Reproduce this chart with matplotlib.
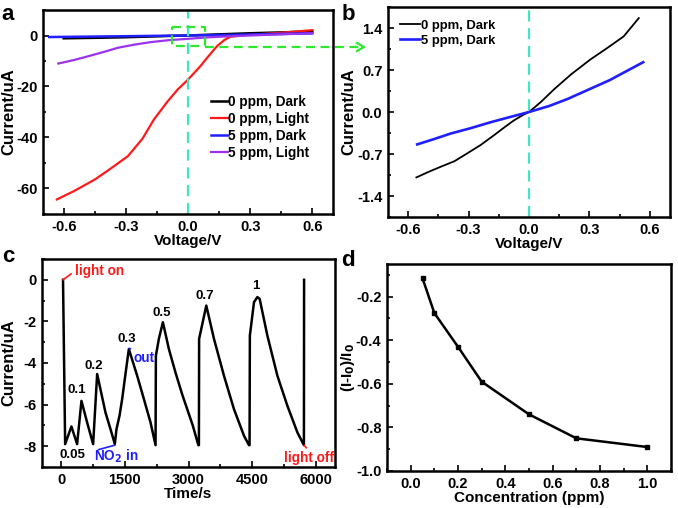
import numpy as np
import matplotlib
matplotlib.use("Agg")
import matplotlib.pyplot as plt
from matplotlib.ticker import MultipleLocator, FormatStrFormatter
from matplotlib.lines import Line2D

plt.rcParams["font.family"] = ["Liberation Sans", "DejaVu Sans"]
plt.rcParams["font.weight"] = "bold"
plt.rcParams["axes.unicode_minus"] = False

# ---------------- data ----------------
# panel a: I-V curves
a_dark0_v = [-0.60, -0.44, -0.31, -0.18, -0.08, 0.00, 0.13, 0.30, 0.47, 0.60]
a_dark0_i = [-1.1, -0.9, -0.7, -0.4, -0.15, 0.0, 0.4, 0.88, 1.26, 1.6]
a_light0_v = [-0.633, -0.55, -0.45, -0.37, -0.29, -0.22, -0.165, -0.10, -0.05, 0.0,
              0.06, 0.10, 0.14, 0.175, 0.204, 0.30, 0.45, 0.60]
a_light0_i = [-64.3, -61.0, -56.5, -52.0, -47.3, -40.5, -33.0, -26.0, -21.2, -17.3,
              -12.0, -8.0, -4.2, -1.8, -0.5, 0.3, 1.1, 2.1]
a_dark5_v = [-0.67, -0.39, -0.19, 0.0, 0.19, 0.32, 0.47, 0.60]
a_dark5_i = [-0.6, -0.36, -0.17, 0.0, 0.22, 0.41, 0.66, 0.85]
a_light5_v = [-0.626, -0.55, -0.48, -0.40, -0.338, -0.26, -0.18, -0.09, 0.0, 0.10, 0.20, 0.40, 0.60]
a_light5_i = [-11.0, -9.6, -8.1, -6.3, -4.8, -3.6, -2.6, -1.8, -1.3, -0.7, -0.3, 0.3, 0.9]

# panel b: dark I-V zoom
b_dark0_v = [-0.559, -0.50, -0.44, -0.37, -0.307, -0.24, -0.175, -0.12, -0.075, -0.03, 0.0,
             0.06, 0.125, 0.21, 0.305, 0.39, 0.47, 0.545]
b_dark0_i = [-1.09, -1.00, -0.915, -0.82, -0.69, -0.55, -0.39, -0.25, -0.14, -0.05, 0.0,
             0.17, 0.38, 0.63, 0.876, 1.07, 1.26, 1.565]
b_dark5_v = [-0.555, -0.47, -0.39, -0.29, -0.19, -0.09, 0.0, 0.10, 0.19, 0.32, 0.40, 0.47, 0.567]
b_dark5_i = [-0.54, -0.45, -0.36, -0.27, -0.17, -0.08, 0.0, 0.10, 0.215, 0.41, 0.53, 0.656, 0.83]

# panel c: response vs time
c_t = [45, 95, 243, 377, 479, 613, 754, 849, 1045, 1163, 1265,
       1304, 1375, 1438, 1500, 1595, 1791, 1949, 2106, 2224,
       2232, 2302, 2397, 2538, 2700, 2850, 3000, 3100, 3232,
       3245, 3250, 3419, 3600, 3835, 4071, 4307, 4425,
       4438, 4445, 4543, 4622, 4676, 4857, 5093, 5329, 5565, 5718,
       5722]
c_i = [0.0, -7.9, -7.05, -7.9, -5.82, -6.86, -7.9, -4.53, -6.38, -7.18, -7.9,
       -7.18, -6.54, -5.73, -4.77, -3.33, -4.61, -5.73, -6.86, -7.95,
       -3.65, -2.84, -2.04, -3.33, -4.5, -5.5, -6.4, -7.0, -7.95,
       -7.95, -2.84, -1.24, -2.84, -4.61, -6.22, -7.5, -7.95,
       -7.95, -2.68, -1.07, -0.83, -0.92, -2.68, -4.61, -6.06, -7.34, -7.95,
       0.0]
c_labels = ["0.05", "0.1", "0.2", "0.3", "0.5", "0.7", "1"]
c_label_t = [270, 375, 770, 1555, 2380, 3380, 4580]
c_label_i = [-8.4, -5.3, -4.14, -2.84, -1.6, -0.76, -0.3]

# panel d: response vs concentration
d_conc = [0.05, 0.1, 0.2, 0.3, 0.5, 0.7, 1.0]
d_resp = [-0.115, -0.275, -0.43, -0.59, -0.74, -0.85, -0.89]

# ---------------- figure ----------------
fig = plt.figure(figsize=(6.78, 5.08), dpi=100)
W, H = 678, 508


def box(l, t, r, b):
    return [l / W, 1 - b / H, (r - l) / W, (b - t) / H]


ax_a = fig.add_axes(box(43, 10, 333, 214))
ax_b = fig.add_axes(box(388, 7, 670, 217))
ax_c = fig.add_axes(box(42, 259, 335, 467))
ax_d = fig.add_axes(box(387, 264, 671, 471))

cyan = "#3ee6c4"
green = "#2ee82e"
red = "#ff1a1a"
blue = "#1f1fff"


def style(ax, xmaj, xmin, ymaj, ymin, xfmt, yfmt):
    ax.xaxis.set_major_locator(MultipleLocator(xmaj))
    ax.xaxis.set_minor_locator(MultipleLocator(xmin))
    ax.yaxis.set_major_locator(MultipleLocator(ymaj))
    ax.yaxis.set_minor_locator(MultipleLocator(ymin))
    ax.xaxis.set_major_formatter(FormatStrFormatter(xfmt))
    ax.yaxis.set_major_formatter(FormatStrFormatter(yfmt))
    ax.tick_params(which="both", direction="in", width=1.2, labelsize=10.5, pad=4)
    ax.tick_params(which="major", length=4)
    ax.tick_params(which="minor", length=2.5)
    for s in ax.spines.values():
        s.set_linewidth(1.8)
    for lab in ax.get_xticklabels() + ax.get_yticklabels():
        lab.set_fontweight("bold")


def labels(ax, xl, yl, label_right, ysize=12):
    # label_right: pixel x where the rotated y label ends
    ax.set_xlabel(xl, fontsize=11, fontweight="bold", labelpad=0)
    ax.set_ylabel(yl, fontsize=ysize, fontweight="bold")
    pos = ax.get_position()
    ax.yaxis.set_label_coords((label_right / W - pos.x0) / pos.width, 0.5)


# --- a ---
ax_a.plot(a_dark0_v, a_dark0_i, color="black", lw=1.8, label="0 ppm, Dark")
ax_a.plot(a_light0_v, a_light0_i, color=red, lw=1.6, label="0 ppm, Light")
ax_a.plot(a_dark5_v, a_dark5_i, color=blue, lw=1.8, label="5 ppm, Dark")
ax_a.plot(a_light5_v, a_light5_i, color="#9933ee", lw=1.6, label="5 ppm, Light")
ax_a.axvline(0, color=cyan, ls=(0, (5, 3)), lw=1.6)
ax_a.set_xlim(-0.7, 0.7)
ax_a.set_ylim(-70, 10)
style(ax_a, 0.3, 0.15, 20, 10, "%.1f", "%d")
labels(ax_a, "Voltage/V", "Current/uA", 16)
ax_a.legend(loc="upper left", bbox_to_anchor=(0.555, 0.618), frameon=False, borderpad=0,
            prop={"size": 9.8, "weight": "bold"}, handlelength=1.25,
            handletextpad=0.05, labelspacing=0.22)
# green dashed rectangle + arrow to panel b
ax_a.plot([-0.075, 0.084, 0.084, -0.075, -0.075], [3.4, 3.4, -4.2, -4.2, 3.4],
          color=green, ls=(0, (4, 2.5)), lw=1.6, clip_on=False)
fig.add_artist(Line2D([205 / W, 362 / W], [1 - 47 / H, 1 - 47 / H],
                      color=green, ls=(0, (4, 2.5)), lw=1.6))
fig.add_artist(Line2D([357 / W, 364 / W, 357 / W], [1 - 43 / H, 1 - 47 / H, 1 - 51 / H],
                      color=green, lw=1.6))

# --- b ---
ax_b.plot(b_dark0_v, b_dark0_i, color="black", lw=1.3, label="0 ppm, Dark")
ax_b.plot(b_dark5_v, b_dark5_i, color=blue, lw=1.9, label="5 ppm, Dark")
ax_b.axvline(0, color=cyan, ls=(0, (5, 3)), lw=1.6)
ax_b.set_xlim(-0.7, 0.7)
ax_b.set_ylim(-1.75, 1.75)
style(ax_b, 0.3, 0.15, 0.7, 0.35, "%.1f", "%.1f")
labels(ax_b, "Voltage/V", "Current/uA", 356)
ax_b.legend(loc="upper left", bbox_to_anchor=(0.018, 0.97), frameon=False, borderpad=0,
            prop={"size": 9.4, "weight": "bold"}, handlelength=1.6,
            handletextpad=0.05, labelspacing=0.22)

# --- c ---
ax_c.plot(c_t, c_i, color="black", lw=1.8)
ax_c.set_xlim(-450, 6450)
ax_c.set_ylim(-9, 1)
style(ax_c, 1500, 750, 2, 1, "%d", "%d")
labels(ax_c, "Time/s", "Current/uA", 16)
for lab, t, i in zip(c_labels, c_label_t, c_label_i):
    ax_c.text(t, i, lab, ha="center", va="center", fontsize=9.5, fontweight="bold")
ax_c.annotate("light on", xy=(45, 0.0), xytext=(330, 0.42), color=red,
              fontsize=9.8, fontweight="bold", ha="left", va="center",
              arrowprops=dict(arrowstyle="-", color=red, lw=1.2, shrinkA=1, shrinkB=0,
                              relpos=(0, 0.5)))
ax_c.annotate("NO$_\\mathbf{2}$ in", xy=(1265, -7.95), xytext=(1300, -8.5), color=blue,
              fontsize=9.8, fontweight="bold", ha="center", va="center",
              arrowprops=dict(arrowstyle="-", color=blue, lw=1.2, shrinkA=0, shrinkB=0,
                              relpos=(0.1, 0.9)))
ax_c.annotate("out", xy=(1600, -3.3), xytext=(1950, -3.75), color=blue,
              fontsize=9.8, fontweight="bold", ha="center", va="center",
              arrowprops=dict(arrowstyle="-", color=blue, lw=1.2, shrinkA=0, shrinkB=0,
                              relpos=(0.45, 1.0)))
ax_c.annotate("light off", xy=(5722, -7.95), xytext=(5830, -8.55), color=red,
              fontsize=9.8, fontweight="bold", ha="center", va="center",
              arrowprops=dict(arrowstyle="-", color=red, lw=1.2, shrinkA=0, shrinkB=0,
                              relpos=(0.5, 1.0)))

# --- d ---
ax_d.plot(d_conc, d_resp, color="black", lw=1.8, marker="s", ms=3)
ax_d.set_xlim(-0.1, 1.1)
ax_d.set_ylim(-1.0, -0.05)
style(ax_d, 0.2, 0.1, 0.2, 0.1, "%.1f", "%.1f")
labels(ax_d, "Concentration (ppm)", "(I-I$_\\mathbf{0}$)/I$_\\mathbf{0}$", 357, ysize=11)

# panel letters
for x, y, s in [(8, 15, "a"), (348, 15, "b"), (8, 256, "c"), (348, 260, "d")]:
    fig.text(x / W, 1 - y / H, s, fontsize=16, fontweight="bold", ha="center", va="center")

fig.savefig("out.png", dpi=100)
